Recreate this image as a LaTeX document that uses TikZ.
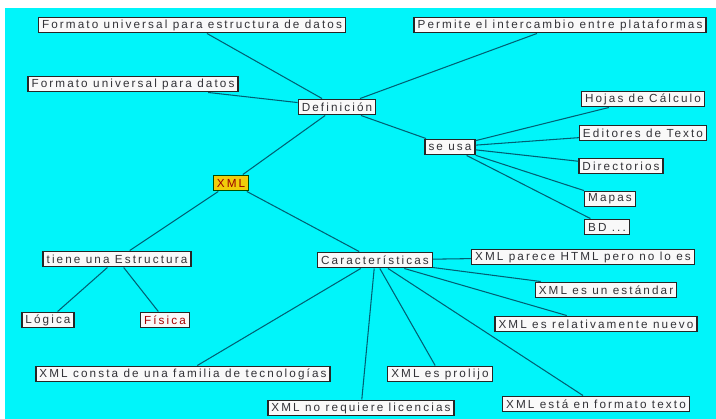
\documentclass[tikz,border=0pt]{standalone}
\usepackage{fontspec}
\setmainfont{Liberation Sans}[LetterSpace=18]
\usepackage{tikz}
\usepackage{xcolor}
\usetikzlibrary{positioning, calc}

\definecolor{fondo}{RGB}{0,245,250}
\definecolor{linea}{RGB}{0,95,115}
\definecolor{texto}{RGB}{50,50,55}
\definecolor{amarillo}{RGB}{240,205,10}

\begin{document}
\begin{tikzpicture}[x=0.03cm, y=-0.03cm, font=\fontsize{10}{11}\selectfont,
    concepto/.style={draw=black!85, line width=1.1pt, fill=white!95!gray, text=texto,
        inner xsep=3pt, inner ysep=1pt, minimum height=0.47cm},
    raiz/.style={concepto, fill=amarillo, draw=black!70!green, text=red!60!black},
    enlace/.style={draw=linea, line width=0.9pt}]
    \useasboundingbox (0, 0) rectangle (716, 419);
    \fill[white] (0, 0) rectangle (716, 419);
    \fill[fondo] (5, 8) rectangle (716, 419);

    % conceptos
    \node[raiz] (xml) at (231, 183) {XML};
    \node[concepto] (def) at (337, 107) {Definición};
    \node[concepto] (fuest) at (192, 25) {Formato universal para estructura de datos};
    \node[concepto] (perm) at (560, 25) {Permite el intercambio entre plataformas};
    \node[concepto] (fudat) at (133, 84) {Formato universal para datos};
    \node[concepto] (seusa) at (450, 147) {se usa};
    \node[concepto] (hojas) at (643, 99) {Hojas de Cálculo};
    \node[concepto] (edit) at (643, 133) {Editores de Texto};
    \node[concepto] (dir) at (621, 166) {Directorios};
    \node[concepto] (mapas) at (610, 199) {Mapas};
    \node[concepto] (bd) at (607, 227) {BD ...};
    \node[concepto] (tiene) at (117, 259) {tiene una Estructura};
    \node[concepto] (logica) at (48, 320) {Lógica};
    \node[concepto, text=red!65!black] (fisica) at (165, 320) {Física};
    \node[concepto] (carac) at (375, 260) {Características};
    \node[concepto] (parece) at (583, 257) {XML parece HTML pero no lo es};
    \node[concepto] (estandar) at (606, 290) {XML es un estándar};
    \node[concepto] (nuevo) at (596, 324) {XML es relativamente nuevo};
    \node[concepto] (consta) at (183, 374) {XML consta de una familia de tecnologías};
    \node[concepto] (prolijo) at (440, 374) {XML es prolijo};
    \node[concepto] (licen) at (361, 408) {XML no requiere licencias};
    \node[concepto] (texto) at (596, 404) {XML está en formato texto};

    % enlaces
    \foreach \a/\b in {xml/def, def/fuest, def/perm, def/fudat, def/seusa,
        seusa/hojas, seusa/edit, seusa/dir, seusa/mapas, seusa/bd,
        xml/tiene, tiene/logica, tiene/fisica, xml/carac,
        carac/parece, carac/estandar, carac/nuevo, carac/consta,
        carac/prolijo, carac/licen, carac/texto}
        \draw[enlace] (\a) -- (\b);
\end{tikzpicture}
\end{document}
